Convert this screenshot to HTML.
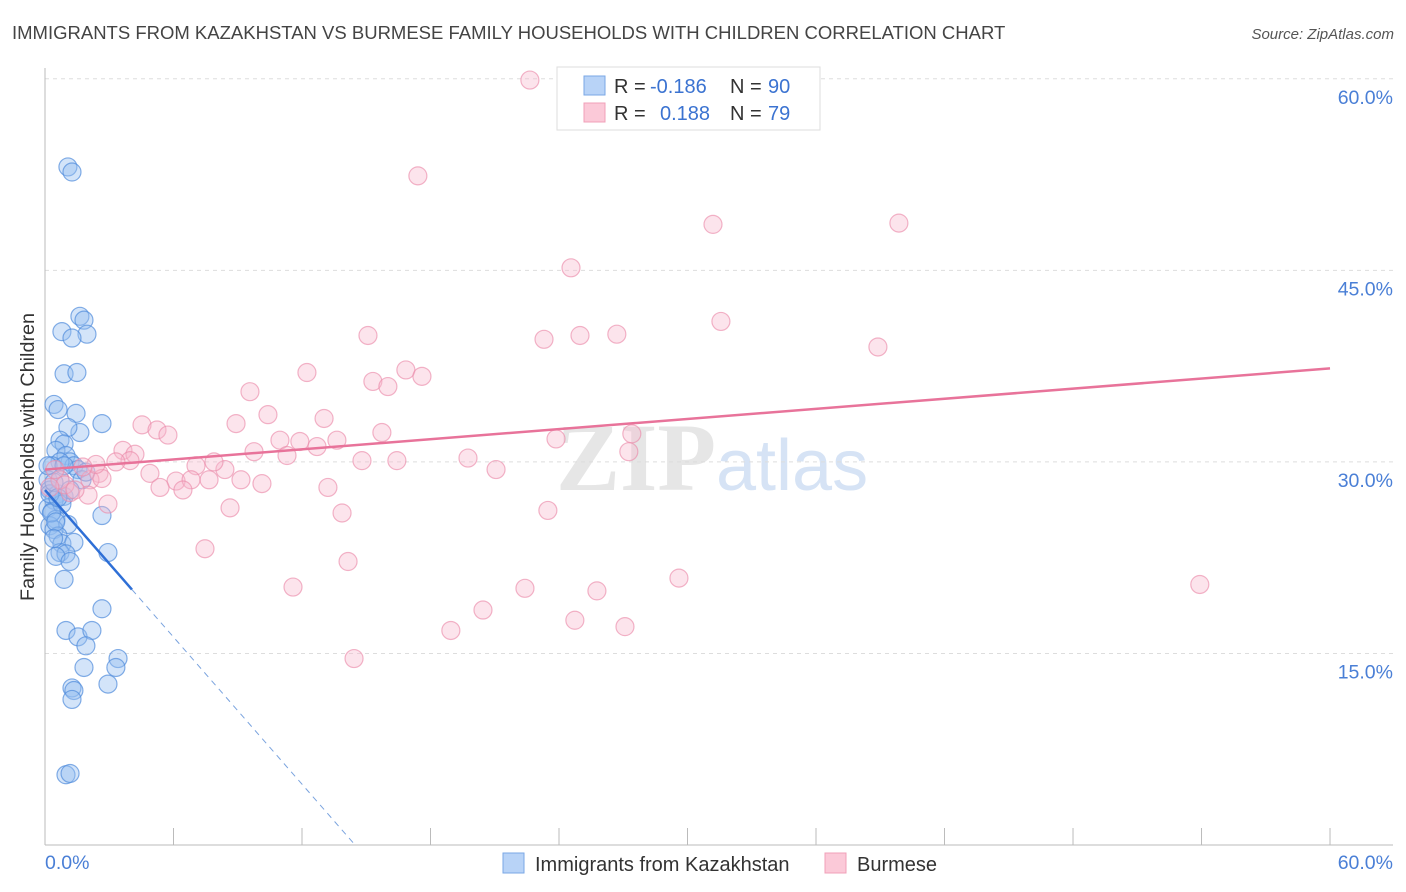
<!DOCTYPE html>
<html><head><meta charset="utf-8"><style>
body{margin:0;background:#fff;font-family:"Liberation Sans",sans-serif;}
svg{display:block}
</style></head><body>
<svg id="chart" width="1406" height="892">
<text x="12" y="39" font-size="18.5" fill="#444">IMMIGRANTS FROM KAZAKHSTAN VS BURMESE FAMILY HOUSEHOLDS WITH CHILDREN CORRELATION CHART</text>
<text x="1394" y="39" font-size="15" fill="#555" font-style="italic" text-anchor="end">Source: ZipAtlas.com</text>
<text x="716" y="490" font-size="96" fill="#e6e6e6" text-anchor="end" font-family="Liberation Serif" font-weight="bold">ZIP</text>
<text x="716" y="490" font-size="72" fill="#d6e3f5">atlas</text>
<g id="grid"></g>
<line x1="45" y1="68" x2="45" y2="845" stroke="#bbb"/>
<line x1="45" y1="845" x2="1393" y2="845" stroke="#bbb"/>
<text transform="translate(34,457) rotate(-90)" font-size="19.8" fill="#333" text-anchor="middle">Family Households with Children</text>
<text x="45" y="869" font-size="19.5" fill="#4a7fd6">0.0%</text>
<text x="1393" y="869" font-size="19.5" fill="#4a7fd6" text-anchor="end">60.0%</text>
<g id="pts"></g>
<g id="trend"></g>
<g>
<rect x="557" y="67" width="263" height="63" fill="#fff" stroke="#ddd"/>
<rect x="584" y="76" width="21" height="19" fill="#b8d3f7" stroke="#7aa7e6"/>
<rect x="584" y="103" width="21" height="19" fill="#fbc9d8" stroke="#f0a0b8"/>
<text x="614" y="93" font-size="20" fill="#333">R = </text><text x="650" y="93" font-size="20" fill="#3b73d1">-0.186</text>
<text x="730" y="93" font-size="20" fill="#333">N = </text><text x="768" y="93" font-size="20" fill="#3b73d1">90</text>
<text x="614" y="120" font-size="20" fill="#333">R = </text><text x="660" y="120" font-size="20" fill="#3b73d1">0.188</text>
<text x="730" y="120" font-size="20" fill="#333">N = </text><text x="768" y="120" font-size="20" fill="#3b73d1">79</text>
</g>
<g>
<rect x="503" y="853" width="21" height="20" fill="#b8d3f7" stroke="#7aa7e6"/>
<text x="535" y="871" font-size="20" fill="#333">Immigrants from Kazakhstan</text>
<rect x="825" y="853" width="21" height="20" fill="#fbc9d8" stroke="#f0a0b8"/>
<text x="857" y="871" font-size="20" fill="#333">Burmese</text>
</g>
</svg>
<script>
const yTicks=[15,30,45,60];
const yTickLabels=["15.0%","30.0%","45.0%","60.0%"];
const xTicks=[0,6,12,18,24,30,36,42,48,54,60];
const blueX=[1.07,1.26,1.63,1.82,0.79,1.96,1.26,0.89,1.49,0.42,0.61,1.45,1.63,1.07,0.70,0.89,2.66,0.51,0.98,1.17,1.35,0.70,0.33,1.54,1.73,1.91,0.14,0.23,0.61,0.89,0.42,0.14,0.33,0.79,0.51,1.07,0.23,0.42,0.61,0.79,1.35,0.70,0.98,0.51,1.17,0.89,2.66,2.94,2.66,0.98,1.54,2.19,1.91,3.41,3.31,1.82,2.94,1.26,1.35,1.26,0.98,1.17,0.14,0.23,0.70,1.17,0.89,0.42,0.3,0.5,0.6,0.4];
const blueY=[53.1,52.7,41.4,41.1,40.2,40.0,39.7,36.9,37.0,34.5,34.1,33.8,32.3,32.7,31.7,31.4,33.0,30.9,30.5,30.0,29.7,30.0,29.7,29.4,28.6,29.2,28.6,27.8,27.5,27.3,27.0,26.4,26.1,26.7,25.5,25.1,25.0,24.7,24.2,23.6,23.7,22.9,22.8,22.6,22.2,20.8,25.8,22.9,18.5,16.8,16.3,16.8,15.6,14.6,13.9,13.9,12.6,12.3,12.1,11.4,5.5,5.6,29.7,27.5,28.6,27.8,29.7,28.4,26.0,25.3,27.2,24.0];
const pinkX=[22.64,17.41,31.19,39.87,24.56,31.56,15.08,23.30,24.98,26.70,38.89,12.23,16.85,17.60,15.31,16.01,9.57,8.92,10.41,13.03,4.53,5.23,5.74,15.73,23.86,27.40,9.76,10.97,11.90,11.30,12.70,13.63,3.64,4.20,3.97,3.31,14.80,16.43,19.75,21.06,27.26,4.90,7.05,8.40,7.89,6.12,6.82,7.66,9.15,10.13,5.37,6.44,13.21,2.52,2.10,2.66,2.38,1.77,2.01,1.17,2.94,8.64,13.87,23.48,7.47,14.15,11.58,22.41,29.60,53.92,20.45,25.77,24.74,18.95,27.08,14.43,0.70,0.93,1.40,0.47,0.23];
const pinkY=[59.9,52.4,48.6,48.7,45.2,41.0,39.9,39.6,39.9,40.0,39.0,37.0,37.2,36.7,36.3,35.9,35.5,33.0,33.7,33.4,32.9,32.5,32.1,32.3,31.8,32.2,30.8,31.7,31.6,30.5,31.2,31.7,30.9,30.6,30.1,30.0,30.1,30.1,30.3,29.4,30.8,29.1,29.7,29.4,30.0,28.5,28.6,28.6,28.6,28.3,28.0,27.8,28.0,29.1,28.6,28.7,29.8,29.6,27.4,27.6,26.7,26.4,26.0,26.2,23.2,22.2,20.2,20.1,20.9,20.4,18.4,19.9,17.6,16.8,17.1,14.6,28.6,28.2,27.8,29.4,28.0];
const blueTrend=[27.8,-1.92];
const pinkTrend=[29.4,0.132];
const NS="http://www.w3.org/2000/svg";
const X=v=>45+v*21.417, Y=v=>845-v*12.77;
function mk(t,a,p){const e=document.createElementNS(NS,t);for(const k in a)e.setAttribute(k,a[k]);p.appendChild(e);return e;}
const grid=document.getElementById('grid');
yTicks.forEach((t,i)=>{
 const l=mk('line',{x1:45,x2:1393,y1:Y(t),y2:Y(t),stroke:'#ddd','stroke-dasharray':'4,4'},grid);
 
 
 const tx=mk('text',{x:1393,y:Y(t)+25,'font-size':19.5,fill:'#4a7fd6','text-anchor':'end'},grid);
 tx.textContent=yTickLabels[i];
 
 
});
xTicks.forEach(t=>{
 const l=mk('line',{x1:X(t),x2:X(t),y1:828,y2:845,stroke:'#bbb'},grid);
 
 
});
const pts=document.getElementById('pts');
blueX.forEach((x,i)=>{
 const c=mk('circle',{cx:X(x),cy:Y(blueY[i]),r:9,fill:'rgba(150,190,240,0.42)',stroke:'rgba(80,140,220,0.7)','stroke-width':1.2},pts);
 
 
});
pinkX.forEach((x,i)=>{
 const c=mk('circle',{cx:X(x),cy:Y(pinkY[i]),r:9,fill:'rgba(248,185,205,0.38)',stroke:'rgba(235,140,170,0.65)','stroke-width':1.2},pts);
 
 
});
const tr=document.getElementById('trend');
const bs=mk('line',{x1:X(0),y1:Y(blueTrend[0]),x2:X(4.06),y2:Y(blueTrend[0]+blueTrend[1]*4.06),stroke:'#2e6fd6','stroke-width':2.5},tr);


const xe=-blueTrend[0]/blueTrend[1];
const bd=mk('line',{x1:X(4.06),y1:Y(blueTrend[0]+blueTrend[1]*4.06),x2:X(xe),y2:Y(0),stroke:'#7aa3de','stroke-width':1,'stroke-dasharray':'6,5'},tr);


const pl=mk('line',{x1:X(0),y1:Y(pinkTrend[0]),x2:X(60),y2:Y(pinkTrend[0]+pinkTrend[1]*60),stroke:'#e8739a','stroke-width':2.5},tr);


</script>
</body></html>
